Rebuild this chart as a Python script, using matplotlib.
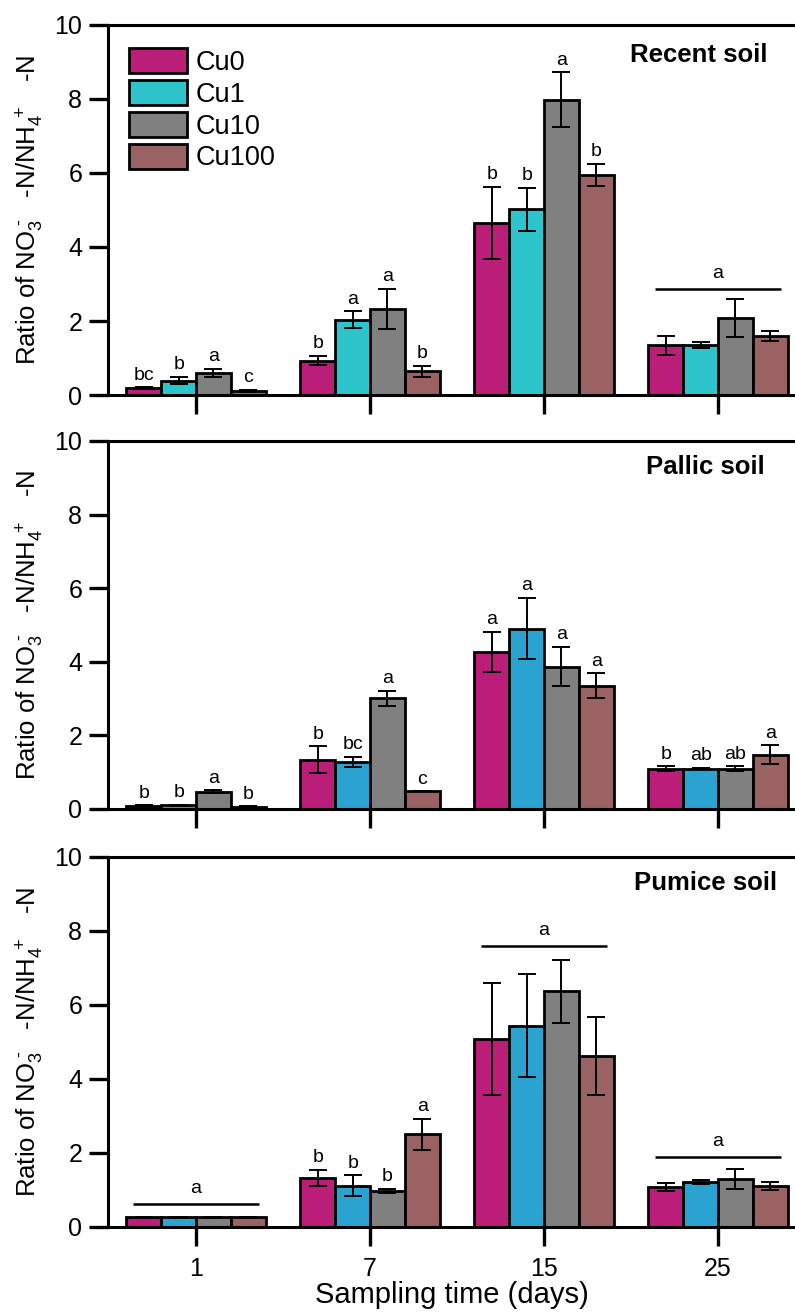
import matplotlib
matplotlib.use("Agg")
import matplotlib.pyplot as plt
import numpy as np
from matplotlib.patches import Patch

plt.rcParams['font.family'] = ['Liberation Sans', 'DejaVu Sans']
plt.rcParams['mathtext.fontset'] = 'custom'
plt.rcParams['mathtext.rm'] = 'Liberation Sans'
plt.rcParams['mathtext.it'] = 'Liberation Sans'
plt.rcParams['mathtext.bf'] = 'Liberation Sans:bold'

# ---------------- data ----------------
days = ["1", "7", "15", "25"]
treatments = ["Cu0", "Cu1", "Cu10", "Cu100"]
panels = ["Recent soil", "Pallic soil", "Pumice soil"]

# Recent soil (rows = treatment, cols = day)
recent_mean = [[0.18, 0.93, 4.65, 1.34],
               [0.39, 2.03, 5.02, 1.36],
               [0.59, 2.32, 7.98, 2.09],
               [0.11, 0.64, 5.95, 1.59]]
recent_err = [[0.03, 0.12, 0.98, 0.26],
              [0.10, 0.23, 0.58, 0.08],
              [0.11, 0.54, 0.74, 0.51],
              [0.02, 0.14, 0.29, 0.14]]
recent_letters = [["bc", "b", "b", ""],
                  ["b", "a", "b", ""],
                  ["a", "a", "a", ""],
                  ["c", "b", "b", ""]]

# Pallic soil
pallic_mean = [[0.09, 1.34, 4.26, 1.09],
               [0.10, 1.27, 4.90, 1.10],
               [0.47, 3.01, 3.87, 1.10],
               [0.06, 0.48, 3.35, 1.47]]
pallic_err = [[0.01, 0.36, 0.55, 0.07],
              [0.01, 0.14, 0.83, 0.01],
              [0.04, 0.20, 0.54, 0.06],
              [0.01, 0.00, 0.34, 0.26]]
pallic_letters = [["b", "b", "a", "b"],
                  ["b", "bc", "a", "ab"],
                  ["a", "a", "a", "ab"],
                  ["b", "c", "a", "a"]]

# Pumice soil
pumice_mean = [[0.26, 1.32, 5.08, 1.08],
               [0.26, 1.12, 5.44, 1.21],
               [0.26, 0.98, 6.37, 1.30],
               [0.26, 2.51, 4.63, 1.10]]
pumice_err = [[0.01, 0.22, 1.52, 0.10],
              [0.01, 0.28, 1.39, 0.05],
              [0.01, 0.06, 0.85, 0.26],
              [0.02, 0.42, 1.05, 0.11]]
pumice_letters = [["", "b", "", ""],
                  ["", "b", "", ""],
                  ["", "b", "", ""],
                  ["", "a", "", ""]]

# group-level significance lines: (panel index, day index, line height, letter)
group_lines = [(0, 3, 2.86, "a"),
               (2, 0, 0.62, "a"),
               (2, 2, 7.59, "a"),
               (2, 3, 1.89, "a")]

means = [recent_mean, pallic_mean, pumice_mean]
errs = [recent_err, pallic_err, pumice_err]
letters = [recent_letters, pallic_letters, pumice_letters]

# ---------------- style ----------------
col_cu0 = "#BB1E78"
col_cu1_top = "#2EC4CC"
col_cu1 = "#2BA3D0"
col_cu10 = "#808080"
col_cu100 = "#9A6262"
panel_colors = [[col_cu0, col_cu1_top, col_cu10, col_cu100],
                [col_cu0, col_cu1, col_cu10, col_cu100],
                [col_cu0, col_cu1, col_cu10, col_cu100]]

W, H = 795, 1316
fig = plt.figure(figsize=(W / 100, H / 100), dpi=100)

# axes pixel extents (top, bottom)
ax_px = [(25, 395), (441, 809), (857, 1227)]
left_px = 108
title_right_px = [767, 765, 777]
title_y_px = [55, 467, 883]

bw = 0.2
offsets = (np.arange(4) - 1.5) * bw
x = np.arange(len(days))
ylabel = r"Ratio of NO$_3^{\ \text{-}}$   -N/NH$_4^{\ +}$   -N"

for p in range(3):
    top, bot = ax_px[p]
    ax = fig.add_axes([left_px / W, 1 - bot / H, 1 - left_px / W, (bot - top) / H])
    for t in range(4):
        m = np.array(means[p][t])
        e = np.array(errs[p][t])
        ax.bar(x + offsets[t], m, width=bw, color=panel_colors[p][t],
               edgecolor="black", linewidth=2.0, zorder=2)
        ax.errorbar(x + offsets[t], m, yerr=e, fmt="none", ecolor="black",
                    elinewidth=1.4, capsize=6.5, capthick=1.4, zorder=3)
        for d in range(4):
            lab = letters[p][t][d]
            if lab:
                ax.text(x[d] + offsets[t], m[d] + e[d] + 0.1, lab,
                        ha="center", va="bottom", fontsize=14, zorder=4)
    for (pi, d, yl, lab) in group_lines:
        if pi == p:
            ax.plot([x[d] - 0.36, x[d] + 0.36], [yl, yl], color="black",
                    lw=1.8, zorder=4, solid_capstyle="butt")
            ax.text(x[d], yl + 0.2, lab, ha="center", va="bottom", fontsize=14)

    ax.set_xlim(-0.506, 3.442)
    ax.set_ylim(0, 10)
    ax.set_yticks([0, 2, 4, 6, 8, 10])
    ax.set_xticks(x)
    if p == 2:
        ax.set_xticklabels(days)
        ax.set_xlabel("Sampling time (days)", fontsize=21, labelpad=0)
    else:
        ax.set_xticklabels([])
    ax.tick_params(axis="both", direction="out", length=13.5, width=2.4,
                   labelsize=18, pad=5)
    ax.tick_params(axis="x", pad=8)
    for s in ["left", "bottom", "top"]:
        ax.spines[s].set_linewidth(2.2)
    ax.spines["right"].set_visible(False)
    ax.set_ylabel(ylabel, fontsize=18.5)
    ax.yaxis.set_label_coords(-62 / (W - left_px), 0.5)
    ax.text(title_right_px[p] / W, 1 - title_y_px[p] / H, panels[p],
            transform=fig.transFigure, ha="right", va="center",
            fontsize=18.5, fontweight="bold")

    if p == 0:
        handles = [Patch(facecolor=panel_colors[0][t], edgecolor="black",
                         linewidth=2.0) for t in range(4)]
        ax.legend(handles, treatments, loc="upper left",
                  bbox_to_anchor=(129 / W, 1 - 48 / H),
                  bbox_transform=fig.transFigure, frameon=False,
                  fontsize=19.5, handlelength=2.15, handleheight=1.05,
                  handletextpad=0.3, labelspacing=0.15, borderpad=0,
                  borderaxespad=0)

fig.savefig("out.png", dpi=100)
